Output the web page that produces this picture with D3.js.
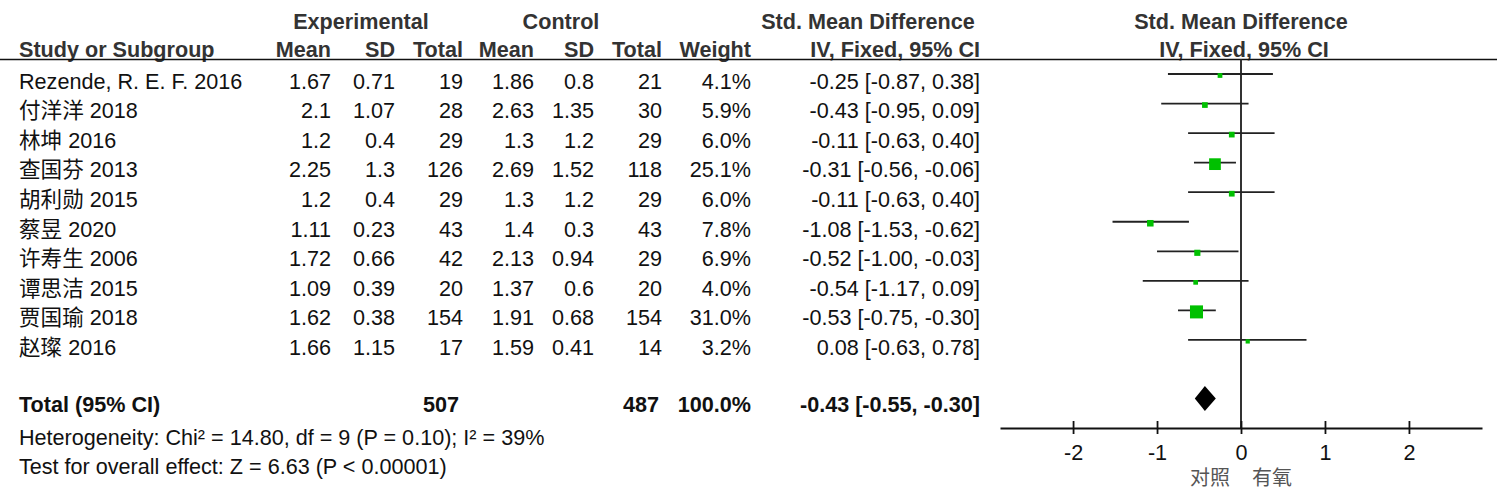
<!DOCTYPE html>
<html>
<head>
<meta charset="utf-8">
<script src="https://cdn.jsdelivr.net/npm/d3@7"></script>
<style>
  body { margin: 0; background: #fff; }
  svg text { font-family: "Liberation Sans", Arial, "Noto Sans CJK SC", sans-serif; font-size: 21.6px; }
</style>
</head>
<body>
<svg id="forest" width="1497" height="502"></svg>
<script>
// datos
const studies = ['Rezende, R. E. F. 2016', '付洋洋 2018', '林坤 2016', '查国芬 2013', '胡利勋 2015',
  '蔡昱 2020', '许寿生 2006', '谭思洁 2015', '贾国瑜 2018', '赵璨 2016'];
const expMean = [1.67, 2.1, 1.2, 2.25, 1.2, 1.11, 1.72, 1.09, 1.62, 1.66];
const expSD = [0.71, 1.07, 0.4, 1.3, 0.4, 0.23, 0.66, 0.39, 0.38, 1.15];
const expN = [19, 28, 29, 126, 29, 43, 42, 20, 154, 17];
const ctlMean = [1.86, 2.63, 1.3, 2.69, 1.3, 1.4, 2.13, 1.37, 1.91, 1.59];
const ctlSD = [0.8, 1.35, 1.2, 1.52, 1.2, 0.3, 0.94, 0.6, 0.68, 0.41];
const ctlN = [21, 30, 29, 118, 29, 43, 29, 20, 154, 14];
const weight = [4.1, 5.9, 6.0, 25.1, 6.0, 7.8, 6.9, 4.0, 31.0, 3.2];
const smd = [-0.25, -0.43, -0.11, -0.31, -0.11, -1.08, -0.52, -0.54, -0.53, 0.08];
const ciLow = [-0.87, -0.95, -0.63, -0.56, -0.63, -1.53, -1.00, -1.17, -0.75, -0.63];
const ciHigh = [0.38, 0.09, 0.40, -0.06, 0.40, -0.62, -0.03, 0.09, -0.30, 0.78];

const total = { expN: 507, ctlN: 487, weight: 100.0, smd: -0.43, lo: -0.55, hi: -0.30 };
const heterogeneity = 'Heterogeneity: Chi² = 14.80, df = 9 (P = 0.10); I² = 39%';
const overallTest = 'Test for overall effect: Z = 6.63 (P < 0.00001)';
const axisTicks = [-2, -1, 0, 1, 2];
const favours = ['对照', '有氧'];

const svg = d3.select('#forest');
// guion normal en vez del signo menos unicode
const loc = d3.formatLocale({ decimal: '.', thousands: ',', grouping: [3], currency: ['', ''], minus: '-' });
const f2 = loc.format('.2f');
const f1 = loc.format('.1f');

// escalas
const x = d3.scaleLinear().domain([-2.87, 2.87]).range([1000, 1482]);
const y = d3.scaleLinear().domain([0, 1]).range([74, 103.55]);
const axisY = 428;

// columnas de la tabla (x = borde derecho)
const cols = [
  { x: 331, head: 'Mean', val: (i) => expMean[i] },
  { x: 395, head: 'SD', val: (i) => expSD[i] },
  { x: 463, head: 'Total', val: (i) => expN[i] },
  { x: 534, head: 'Mean', val: (i) => ctlMean[i] },
  { x: 594, head: 'SD', val: (i) => ctlSD[i] },
  { x: 662, head: 'Total', val: (i) => ctlN[i] },
  { x: 751, head: 'Weight', val: (i) => f1(weight[i]) + '%' },
  { x: 980, head: 'IV, Fixed, 95% CI', val: (i) => `${f2(smd[i])} [${f2(ciLow[i])}, ${f2(ciHigh[i])}]` },
];

// cabeceras
const head = svg.append('g').attr('fill', '#333').attr('font-weight', 'bold');
[['Experimental', 361], ['Control', 561], ['Std. Mean Difference', 868], ['Std. Mean Difference', 1241]]
  .forEach(([t, cx]) => {
    head.append('text').attr('x', cx).attr('y', 28.5).attr('text-anchor', 'middle').text(t);
  });
head.append('text').attr('x', 19).attr('y', 56.5).text('Study or Subgroup');
cols.forEach((c) => {
  head.append('text').attr('x', c.x).attr('y', 56.5).attr('text-anchor', 'end').text(c.head);
});
head.append('text').attr('x', 1244).attr('y', 56.5).attr('text-anchor', 'middle').text('IV, Fixed, 95% CI');

svg.append('line')
  .attr('x1', 0).attr('x2', 1497).attr('y1', 59.5).attr('y2', 59.5)
  .attr('stroke', '#111').attr('stroke-width', 1.6);

// filas de estudios
const rows = svg.append('g').selectAll('g')
  .data(studies)
  .enter()
  .append('g')
  .attr('transform', (d, i) => `translate(0, ${y(i) + 14.8})`)
  .attr('fill', '#111');

rows.append('text').attr('x', 19).text((d) => d);
cols.forEach((c) => {
  rows.append('text').attr('x', c.x).attr('text-anchor', 'end').text((d, i) => c.val(i));
});

// fila total
const tot = svg.append('g').attr('fill', '#111').attr('font-weight', 'bold')
  .attr('transform', 'translate(0, 411.5)');
tot.append('text').attr('x', 19).text('Total (95% CI)');
tot.append('text').attr('x', 459).attr('text-anchor', 'end').text(total.expN);
tot.append('text').attr('x', 659).attr('text-anchor', 'end').text(total.ctlN);
tot.append('text').attr('x', 751).attr('text-anchor', 'end').text(f1(total.weight) + '%');
tot.append('text').attr('x', 980).attr('text-anchor', 'end')
  .text(`${f2(total.smd)} [${f2(total.lo)}, ${f2(total.hi)}]`);

svg.append('text').attr('x', 19).attr('y', 445).attr('fill', '#111').text(heterogeneity);
svg.append('text').attr('x', 19).attr('y', 473.5).attr('fill', '#111').text(overallTest);

// linea vertical en cero
svg.append('line')
  .attr('x1', x(0)).attr('x2', x(0)).attr('y1', 59.5).attr('y2', axisY)
  .attr('stroke', '#333').attr('stroke-width', 2);

// intervalos de confianza
svg.append('g').selectAll('line')
  .data(studies)
  .enter()
  .append('line')
  .attr('x1', (d, i) => x(ciLow[i]))
  .attr('x2', (d, i) => x(ciHigh[i]))
  .attr('y1', (d, i) => y(i))
  .attr('y2', (d, i) => y(i))
  .attr('stroke', '#222')
  .attr('stroke-width', 1.8);

// cuadrados (area proporcional al peso)
svg.append('g').selectAll('rect')
  .data(studies)
  .enter()
  .append('rect')
  .attr('x', (d, i) => x(smd[i]) - 1.17 * Math.sqrt(weight[i]))
  .attr('y', (d, i) => y(i) + 1.5 - 1.17 * Math.sqrt(weight[i]))
  .attr('width', (d, i) => 2.34 * Math.sqrt(weight[i]))
  .attr('height', (d, i) => 2.34 * Math.sqrt(weight[i]))
  .attr('fill', '#00c000');

// diamante del total
const dy = 398.5;
svg.append('path')
  .attr('d', `M${x(total.lo)},${dy} L${x(total.smd)},${dy - 12.5} L${x(total.hi)},${dy} L${x(total.smd)},${dy + 12.5} Z`)
  .attr('fill', '#000');

// eje
const axis = svg.append('g')
  .attr('transform', `translate(0, ${axisY})`)
  .call(d3.axisBottom(x).tickValues(axisTicks).tickSizeOuter(0).tickSizeInner(6).tickFormat(loc.format('d')));
axis.select('.domain').attr('stroke', '#111').attr('stroke-width', 1.8);
axis.selectAll('.tick line').attr('y1', -7).attr('y2', 6).attr('stroke', '#111').attr('stroke-width', 1.8);
axis.selectAll('.tick text')
  .attr('y', 31.5).attr('dy', null)
  .attr('fill', '#111')
  .style('font-size', '21.6px')
  .style('font-family', '"Liberation Sans", Arial, sans-serif');

// etiquetas de favorece
svg.append('text').attr('x', x(0) - 11).attr('y', 484.5).attr('text-anchor', 'end')
  .attr('fill', '#555').style('font-size', '20px').text(favours[0]);
svg.append('text').attr('x', x(0) + 11).attr('y', 484.5).attr('text-anchor', 'start')
  .attr('fill', '#555').style('font-size', '20px').text(favours[1]);
</script>
</body>
</html>
